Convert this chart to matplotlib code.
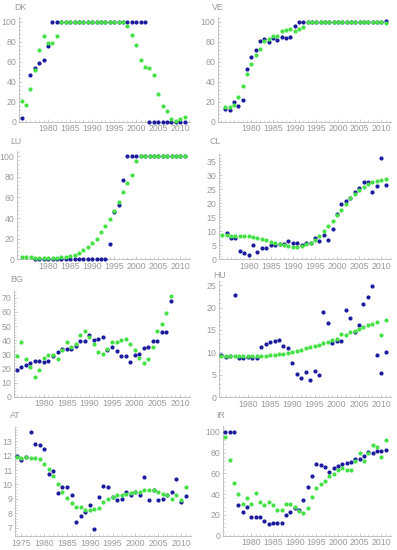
import numpy as np
import matplotlib
matplotlib.use("Agg")
import matplotlib.pyplot as plt
from matplotlib.ticker import MultipleLocator, FixedLocator

nan = np.nan
years = np.arange(1974, 2012)
years_bg = np.arange(1974, 2009)

# ---- data ----
dk_blue = [4, nan, 47, 54, 59, 62, 76, 100, 100, 100,
           100, 100, 100, 100, 100, 100, 100, 100, 100, 100,
           100, 100, 100, 100, 100, 100, 100, 100, 100, 0,
           0, 0, 0, 0, 0, 0, 0, 0]
dk_green = [21, 17, 33, 52, 72, 86, 79, 79, 86, 100,
            100, 100, 100, 100, 100, 100, 100, 100, 100, 100,
            100, 100, 100, 100, 96, 87, 77, 62, 55, 54,
            47, 28, 16, 11, 3, 1, 3, 5]

ve_blue = [13, 12, 20, 16, 22, 53, 65, 72, 81, 83,
           80, 84, 82, 85, 84, 85, 96, 100, 100, 100,
           100, 100, 100, 100, 100, 100, 100, 100, 100, 100,
           100, 100, 100, 100, 100, 100, 100, 100.5]
ve_green = [15, 15, 17, 25, 36, 48, 58, 67, 73, 81,
            83, 86, 86, 91, 92, 93, 91, 93, 95, 100,
            100, 100, 100, 100, 100, 100, 100, 100, 100, 100,
            100, 100, 100, 100, 100, 100, 100, 99]

lu_blue = [nan, nan, nan, 0, 0, 0, 0, 0, 0, 0,
           0, 0, 0, 0, 0, 0, 0, 0, 0, 0,
           15, 46, 53, 77, 100, 100, 100, 100, 100, 100,
           100, 100, 100, 100, 100, 100, 100, 100]
lu_green = [2, 2, 2, 1.5, 1.5, 1.5, 1.5, 1.5, 1.5, 2,
            2, 3, 4, 6, 9, 12, 16, 20, 26, 32,
            39, 47, 56, 65, 74, 82, 95, 100, 100, 100,
            100, 100, 100, 100, 100, 100, 100, 100]

cl_blue = [nan, 9.5, 7.6, 7.6, 2.8, 2.3, 1.4, 5.0, 2.6, 4.0,
           4.2, 5.0, 5.2, 5.6, 5.3, 6.6, 5.7, 5.9, 5.0, 5.8,
           5.7, 7.5, 6.4, 8.5, 6.9, 10.9, 16.0, 19.7, 20.7, 22.0,
           23.8, 25.3, 27.7, 27.5, 24.0, 26.0, 36.0, 26.3]
cl_green = [8.5, 8.5, 8.4, 8.4, 8.4, 8.4, 8.3, 8.0, 7.7, 7.3,
            6.8, 6.3, 5.8, 5.4, 5.0, 4.6, 4.4, 4.4, 4.7, 5.3,
            5.8, 7.0, 8.3, 10.0, 11.8, 13.7, 15.8, 17.7, 19.6, 21.8,
            23.4, 24.7, 25.9, 26.9, 27.6, 28.0, 28.3, 28.6]

bg_blue = [19, 21, 22.5, 24, 25.5, 25, 24.5, 25, 28.5, 31.5,
           34, 34, 34, 36, 39.5, 39.5, 44, 40, 40.5, 42,
           33, 35.5, 32, 29, 28.5, 24.5, 29.5, 30, 34.5, 35.5,
           39.5, 39.5, 46, 46, 68]
bg_green = [29, 39, 27, 21, 14, 19, 27.5, 29.5, 29.5, 27,
            33, 39, 35, 37.5, 43.5, 46.5, 42.5, 37.5, 31.5, 30.5,
            34, 39, 38.5, 40, 41, 37.5, 33, 27.5, 24, 26.5,
            35, 46.5, 51.5, 59.5, 71]

hu_blue = [9.5, 9.0, 9.2, 22.7, 8.8, 8.7, 9.0, 8.8, 8.7, 11.1,
           11.8, 12.4, 12.6, 12.8, 11.5, 11.0, 7.7, 5.1, 4.3, 5.6,
           3.8, 5.9, 4.9, 19.0, 16.5, 12.0, 12.5, 12.5, 19.5, 17.6,
           14.5, 16.1, 20.8, 22.4, 24.8, 9.4, 5.5, 10.1]
hu_green = [9.3, 9.3, 9.3, 9.3, 9.3, 9.3, 9.3, 9.3, 9.3, 9.3,
            9.3, 9.4, 9.5, 9.6, 9.7, 9.9, 10.0, 10.3, 10.6, 10.9,
            11.1, 11.4, 11.7, 12.0, 12.3, 12.7, 12.9, 14.1, 13.9, 14.5,
            14.8, 15.2, 15.7, 16.0, 16.3, 16.7, 13.9, 17.2]

at_blue = [12.0, 11.7, 11.9, 13.6, 12.8, 12.75, 12.45, 10.75, 10.9, 9.4,
           9.8, 9.8, 9.3, 7.4, 7.8, 8.1, 8.6, 6.9, 9.1, 9.9,
           9.8, 9.1, 8.9, 9.0, 9.5, 9.3, 9.5, 9.3, 10.5, 8.9,
           9.6, 8.9, 9.0, 9.3, 9.5, 10.4, 8.8, 9.2]
at_green = [11.9, 11.85, 11.9, 11.85, 11.85, 11.75, 11.45, 11.1, 10.6, 10.05,
            9.5, 9.05, 8.7, 8.45, 8.45, 8.2, 8.2, 8.3, 8.35, 8.8,
            9.0, 9.15, 9.3, 9.3, 9.35, 9.4, 9.5, 9.5, 9.6, 9.6,
            9.6, 9.45, 9.35, 9.25, 9.0, 9.3, 8.9, 9.85]

ir_blue = [100, 100, 100, 30, 23, 28, 18, 18, 18, 14,
           11.5, 12, 12, 12, 20, 23, 27, 25, 34, 47,
           58, 69, 68, 66, 61, 65, 67, 69, 70, 71,
           74, 74, 77, 81, 80, 82, 82, 83]
ir_green = [95, 73, 51, 40, 31, 36, 31, 41, 32, 30,
            32, 30, 25, 25, 31, 31, 28, 24, 22, 27,
            37, 46, 50, 53, 58, 59, 63, 65, 63, 63,
            72, 80, 72, 80, 87, 85, 76, 92]

x_ticks = [1980, 1985, 1990, 1995, 2000, 2005, 2010]
x_ticks_at = [1975, 1980, 1985, 1990, 1995, 2000, 2005, 2010]

BLUE = '#1c1c9c'
GREEN = '#45e045'
GREY = '#9a9a9a'
AXC = '#b8b8b8'
W, H = 397, 550

plt.rcParams['font.family'] = ['Liberation Sans', 'DejaVu Sans']

# name, x, blue, green, box (left, right, top, bottom px), xmin, ylim, ytick step, xticks, label px
panels = [
    ('DK', years, dk_blue, dk_green, (19, 190, 17, 121.5), 1973.4, (0, 105), 20, x_ticks, (14, 7)),
    ('VE', years, ve_blue, ve_green, (218, 391, 17, 121.7), 1972.3, (0, 105), 20, x_ticks, (212, 7)),
    ('LU', years, lu_blue, lu_green, (17, 190, 151, 259.3), 1972.9, (0, 105), 20, x_ticks, (10, 141)),
    ('CL', years, cl_blue, cl_green, (219, 391, 154, 259.3), 1973.3, (0, 37.5), 5, x_ticks, (210, 142)),
    ('BG', years_bg, bg_blue, bg_green, (14, 190, 290, 396.7), 1973.4, (0, 75.5), 10, x_ticks, (10, 280)),
    ('HU', years, hu_blue, hu_green, (219, 391, 280.6, 397.3), 1973.5, (0, 26), 5, x_ticks, (213, 276)),
    ('AT', years, at_blue, at_green, (15, 191, 426.7, 536), 1973.6, (6.43, 14.0), 1, x_ticks_at, (10, 416)),
    ('IR', years, ir_blue, ir_green, (223, 391, 425.7, 535.7), 1973.5, (0, 106), 20, x_ticks, (216, 416)),
]

fig = plt.figure(figsize=(W / 100, H / 100), dpi=100)

for name, xs, blue, green, box, xmin, ylim, ystep, xt, lab in panels:
    l, r, t, b = box
    ax = fig.add_axes([l / W, 1 - b / H, (r - l) / W, (b - t) / H])
    ax.scatter(xs, blue, s=9, color=BLUE, linewidths=0, clip_on=False, zorder=3)
    ax.scatter(xs, green, s=9, color=GREEN, linewidths=0, clip_on=False, zorder=4)
    ax.set_xlim(xmin, 2012.2)
    ax.set_ylim(*ylim)
    ax.xaxis.set_major_locator(FixedLocator(xt))
    ax.xaxis.set_minor_locator(MultipleLocator(1))
    y0 = int(np.ceil(ylim[0]))
    ax.yaxis.set_major_locator(FixedLocator(np.arange(y0, ylim[1], ystep)))
    ax.yaxis.set_minor_locator(MultipleLocator(ystep / 5 if ystep != 1 else 0.2))
    for s in ('top', 'right'):
        ax.spines[s].set_visible(False)
    for s in ('left', 'bottom'):
        ax.spines[s].set_color(AXC)
        ax.spines[s].set_linewidth(0.6)
    ax.tick_params(which='major', direction='in', length=2.5, width=0.5,
                   color=AXC, labelcolor=GREY, labelsize=6.3, pad=2)
    ax.tick_params(which='minor', direction='in', length=1.3, width=0.4, color=AXC)
    ax.patch.set_alpha(0)
    fig.text(lab[0] / W, 1 - lab[1] / H, name, color=GREY, fontsize=6.3,
             ha='left', va='center')

fig.savefig('out.png', dpi=100)
